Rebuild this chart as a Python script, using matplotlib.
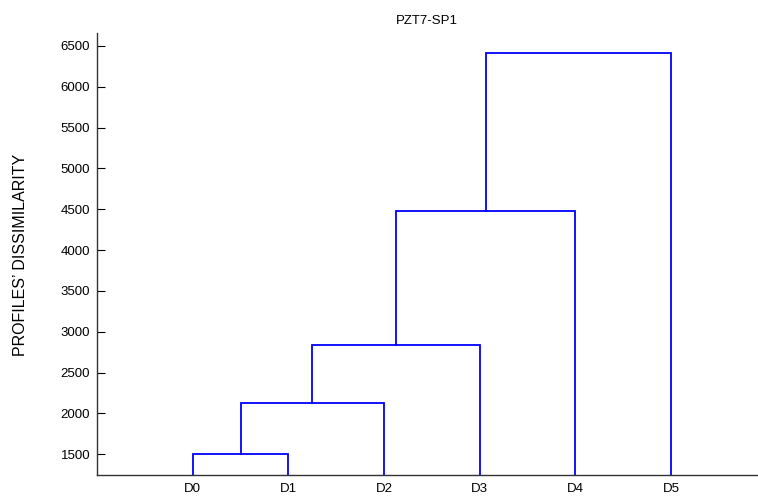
import matplotlib
matplotlib.use("Agg")
import matplotlib.pyplot as plt

plt.rcParams["font.family"] = ["Liberation Sans", "DejaVu Sans"]

# dendrogram data
leaves = ["D0", "D1", "D2", "D3", "D4", "D5"]
# each merge: (left cluster, right cluster, height); clusters 0..5 are leaves, 6.. are merges
merges = [(0, 1, 1500), (6, 2, 2131), (7, 3, 2834), (8, 4, 4477), (9, 5, 6407)]
yticks = [1500, 2000, 2500, 3000, 3500, 4000, 4500, 5000, 5500, 6000, 6500]

fig = plt.figure(figsize=(7.58, 4.97), dpi=100)
ax = fig.add_axes([0.128, 0.0443, 0.871, 0.889])

# positions/heights of every node
xpos = [i + 1 for i in range(len(leaves))]
hgt = [0] * len(leaves)
for a, b, h in merges:
    ax.plot([xpos[a], xpos[a], xpos[b], xpos[b]], [hgt[a], h, h, hgt[b]],
            color="#0000ff", lw=1.3, solid_joinstyle="miter")
    xpos.append((xpos[a] + xpos[b]) / 2)
    hgt.append(h)

ax.set_xlim(0, 6.9)
ax.set_ylim(1247, 6655)
ax.set_xticks(range(1, len(leaves) + 1))
ax.set_xticklabels(leaves)
ax.set_yticks(yticks)
ax.tick_params(axis="y", direction="in", length=6, labelsize=9.5, pad=5)
ax.tick_params(axis="x", length=0, labelsize=9.5, pad=6)
for s in ["top", "right"]:
    ax.spines[s].set_visible(False)
for s in ["left", "bottom"]:
    ax.spines[s].set_color("#333333")
    ax.spines[s].set_linewidth(1.0)

ax.set_title("PZT7-SP1", fontsize=9.5, pad=6.5)
fig.text(0.027, 0.488, "PROFILES\u2019 DISSIMILARITY", rotation=90,
         va="center", ha="center", fontsize=11.5)

fig.savefig("out.png", dpi=100)
